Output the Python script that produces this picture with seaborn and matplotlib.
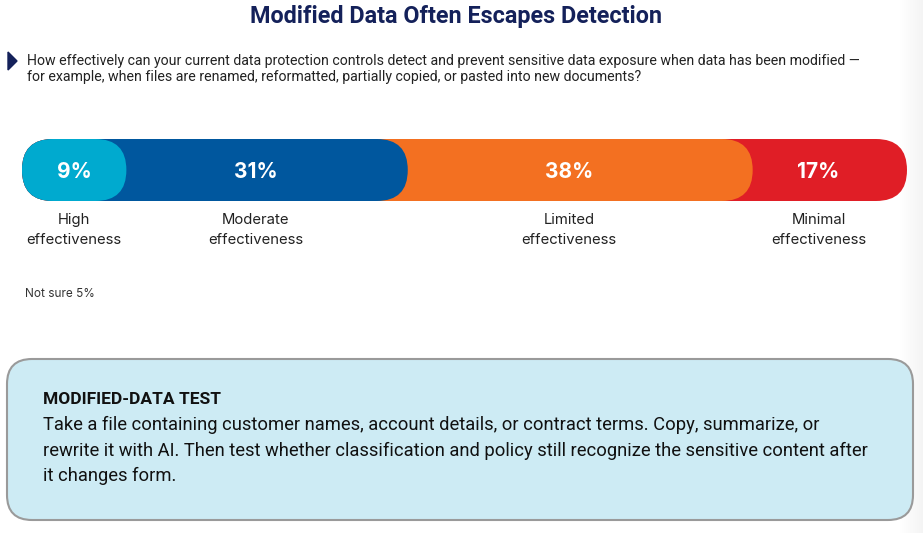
import numpy as np
import pandas as pd
import matplotlib
matplotlib.use("Agg")
import matplotlib.pyplot as plt
import matplotlib.transforms as mtransforms
from matplotlib.patches import FancyBboxPatch, Polygon
import seaborn as sns

# data
categories = ["High\neffectiveness", "Moderate\neffectiveness",
              "Limited\neffectiveness", "Minimal\neffectiveness"]
shares = [9, 31, 38, 17]
colors = ["#00aacf", "#00579e", "#f37021", "#e01e26"]
not_sure = 5

title = "Modified Data Often Escapes Detection"
question = ("How effectively can your current data protection controls detect and prevent sensitive data exposure when data has been modified \u2014\n"
            "for example, when files are renamed, reformatted, partially copied, or pasted into new documents?")
box_head = "MODIFIED-DATA TEST"
box_lines = ["Take a file containing customer names, account details, or contract terms. Copy, summarize, or",
             "rewrite it with AI. Then test whether classification and policy still recognize the sensitive content after",
             "it changes form."]

sns.set_theme(style="white")
plt.rcParams["font.family"] = ["Roboto", "DejaVu Sans"]

W, H = 923, 533
fig = plt.figure(figsize=(W / 100, H / 100), dpi=100)
fig.patch.set_facecolor("white")

# background axes in pixel coordinates
bg = fig.add_axes([0, 0, 1, 1], zorder=0)
bg.axis("off")

# faint grey fade at right edge
grad = np.linspace(0, 1, 30)[None, :]
bg.imshow(grad, extent=(900, 923, 533, 0),
          cmap=sns.blend_palette(["#ffffff", "#f4f4f4"], as_cmap=True),
          aspect="auto", zorder=0)
bg.set_xlim(0, W)
bg.set_ylim(H, 0)

bg.text(W / 2 - 5, 17, title, ha="center", va="center", fontsize=16.8,
        fontweight="bold", color="#14215a")
bg.add_patch(Polygon([[8, 52], [17, 61], [8, 70]], closed=True, color="#14215a"))
bg.text(27, 69, question, ha="left", va="center", fontsize=10.2, color="#222222",
        linespacing=1.15)

# stacked rounded bar
pad = 2.5
total = sum(shares)
cum = np.cumsum(shares)
df = pd.DataFrame({"cat": categories, "tip": cum + pad, "row": ["all"] * 4})

bx = fig.add_axes([22 / W, (H - 201) / H, 885 / W, 62 / H], zorder=1)
sns.barplot(data=df, x="tip", y="row", hue="cat", hue_order=categories[::-1],
            palette=colors[::-1], dodge=False, width=1, orient="h",
            saturation=1, legend=False, ax=bx)
bx.set_xlim(0, total + pad)
bx.set_ylim(0.5, -0.5)
bx.axis("off")

# swap the rectangles for pill shapes
px_per_x = 885 / (total + pad)
rx = 31 / px_per_x
for bar in list(bx.patches):
    x0, y0 = bar.get_x(), bar.get_y()
    w, h = bar.get_width(), bar.get_height()
    pill = FancyBboxPatch((x0, y0), w, h,
                          boxstyle=f"round,pad=0,rounding_size={rx}",
                          mutation_aspect=(h / 2) / rx,
                          facecolor=bar.get_facecolor(), edgecolor="none",
                          zorder=bar.get_zorder())
    bar.remove()
    bx.add_patch(pill)

starts = np.concatenate([[0], cum[:-1]])
label_x = (starts + cum) / 2 + pad / 2
lab_tr = mtransforms.blended_transform_factory(bx.transData, bg.transData)
for x, s, c in zip(label_x, shares, categories):
    bx.text(x, 0.04, f"{s}%", ha="center", va="center", color="white",
            fontsize=15, fontweight="bold", family=["Inter", "DejaVu Sans"])
    bg.text(x, 213, c, transform=lab_tr, ha="center", va="top", fontsize=10.7,
            color="#222222", family=["Inter", "DejaVu Sans"], linespacing=1.55)

bg.text(25, 294, f"Not sure {not_sure}%", ha="left", va="center", fontsize=8.5,
        color="#333333", family=["Inter", "DejaVu Sans"])

# call-out box
bg.add_patch(FancyBboxPatch((7, 359), 906, 161, boxstyle="round,pad=0,rounding_size=25",
                            facecolor="#cdebf4", edgecolor="#9a9a9a", linewidth=1.5))
bg.text(43, 400, box_head, ha="left", va="center", fontsize=12.5,
        fontweight="bold", color="#111111")
for i, line in enumerate(box_lines):
    bg.text(43, 425 + 25.5 * i, line, ha="left", va="center", fontsize=13.2,
            color="#111111")

fig.savefig("out.png", dpi=100, facecolor="white")
plt.close(fig)
